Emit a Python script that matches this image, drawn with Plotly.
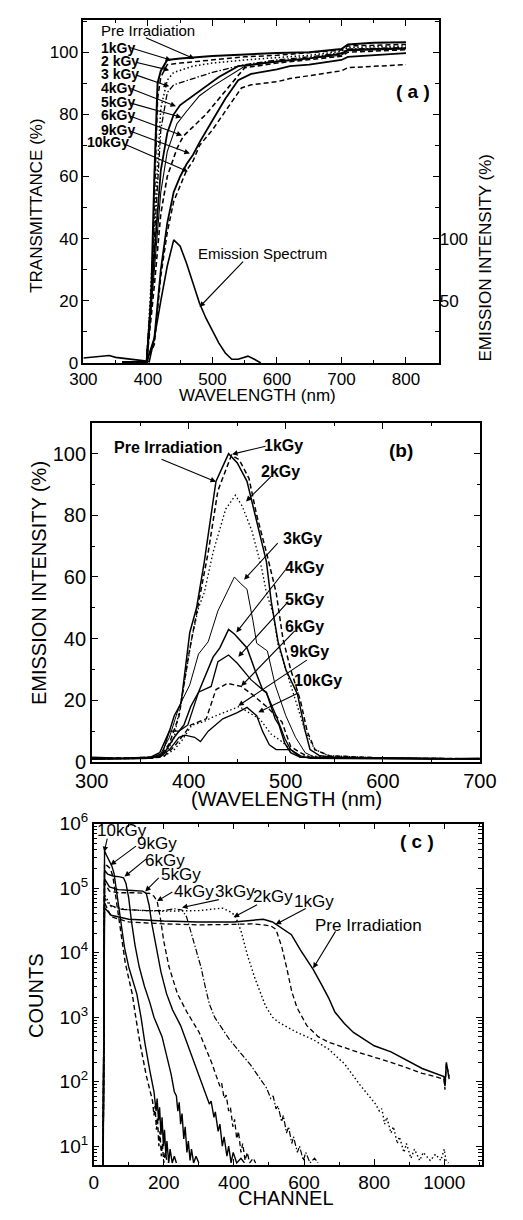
import plotly.graph_objects as go

W, H = 523, 1220
FONT = "Liberation Sans, Arial, Helvetica, sans-serif"

# ---------------- Panel (a): transmittance vs wavelength ----------------
a_labels = ["Pre Irradiation", "1kGy", "2 kGy", "3 kGy", "4kGy", "5kGy", "6kGy", "9kGy", "10kGy"]
a_pre_wl = [360, 398, 405, 410, 415, 420, 430, 450, 500, 550, 600, 650, 700, 710, 750, 800]
a_pre_t = [0.3, 0.3, 20, 60, 90, 94, 97.5, 98, 98.8, 99.3, 99.7, 100, 101, 102.5, 103, 103.2]
a_1k_wl = [360, 398, 405, 410, 415, 420, 430, 450, 500, 550, 600, 650, 700, 710, 800]
a_1k_t = [0.3, 0.3, 18, 55, 85, 92, 96, 96.5, 97.5, 98.5, 99, 99.8, 100.7, 102, 102.5]
a_2k_wl = [360, 398, 410, 420, 430, 440, 470, 500, 550, 600, 650, 700, 710, 800]
a_2k_t = [0.3, 0.3, 45, 82, 91, 93.5, 95.5, 96.5, 97.5, 98.2, 99, 100.3, 101.5, 102]
a_3k_wl = [360, 398, 410, 420, 430, 440, 470, 500, 550, 600, 650, 700, 710, 800]
a_3k_t = [0.3, 0.3, 40, 75, 87, 89.5, 91.5, 93.5, 96, 97.5, 98.5, 99.8, 101, 101.5]
a_4k_wl = [360, 398, 410, 420, 430, 440, 450, 470, 490, 510, 540, 600, 650, 700, 710, 800]
a_4k_t = [0.3, 0.3, 35, 62, 74, 80, 83, 86, 89, 92, 95.5, 97, 98, 99.5, 100.8, 101.3]
a_5k_wl = [360, 398, 410, 420, 430, 445, 460, 480, 500, 530, 550, 600, 700, 710, 800]
a_5k_t = [0.3, 0.3, 30, 55, 68, 77, 81, 86, 89, 93, 95.5, 97, 99, 100.5, 101]
a_6k_wl = [360, 398, 410, 420, 430, 445, 455, 470, 490, 510, 530, 550, 600, 700, 710, 800]
a_6k_t = [0.3, 0.3, 25, 48, 60, 69, 73, 76, 80, 85, 90, 95, 96.5, 98.7, 100, 100.8]
a_9k_wl = [360, 398, 410, 420, 430, 440, 450, 460, 470, 480, 500, 520, 540, 560, 600, 620, 650, 700, 710, 800]
a_9k_t = [0.3, 0.3, 8, 30, 45, 55, 60, 64, 67, 71, 78, 85, 91, 93, 94.5, 95.5, 96, 97.5, 98.5, 99.7]
a_10k_wl = [360, 398, 410, 420, 430, 440, 450, 460, 470, 480, 500, 520, 545, 560, 600, 620, 650, 700, 710, 800]
a_10k_t = [0.3, 0.3, 6, 28, 42, 52, 57, 62, 65, 70, 75, 81, 88.5, 89.5, 90.5, 91.5, 92.5, 94, 95, 96]
# emission spectrum (right axis, %)
a_em_wl = [300, 320, 340, 350, 370, 390, 398, 402, 410, 420, 430, 440, 450, 460, 470, 480, 490, 500, 510, 520, 530, 540, 555, 565, 575]
a_em_i = [4, 5, 6, 4.5, 3.5, 2.5, 1.5, 1, 20, 50, 78, 99, 94, 80, 64, 48, 36, 26, 16, 8, 3, 3, 5.5, 3, 0]

# ---------------- Panel (b): emission intensity vs wavelength ----------------
b_pre_wl = [300, 330, 360, 370, 380, 385, 392, 396, 401, 408, 416, 422, 428, 441, 450, 460, 470, 480, 485, 492, 500, 512, 520, 525, 535, 550, 600, 650, 700]
b_pre_i = [1.5, 1.2, 1.5, 3, 10, 15, 19, 30, 42, 50, 65, 78, 91, 100, 97, 91, 78, 65, 52, 39, 30, 22, 10, 4, 2, 1.5, 1.2, 1, 1.2]
b_1k_wl = [300, 340, 370, 380, 390, 400, 410, 420, 430, 444, 452, 462, 470, 480, 490, 497, 505, 515, 522, 530, 545, 600, 650, 700]
b_1k_i = [1.2, 1.5, 1.5, 6, 15, 35, 52, 68, 88, 99.5, 98, 92, 80, 68, 55, 40, 30, 20, 10, 4, 2, 1.3, 1.2, 1]
b_2k_wl = [300, 350, 375, 385, 395, 403, 410, 416, 425, 438, 448, 455, 465, 475, 480, 487, 492, 500, 510, 520, 530, 545, 600, 700]
b_2k_i = [1, 1.3, 2, 8, 25, 40, 50, 55, 68, 82, 86.5, 83, 75, 63, 55, 48, 38, 30, 20, 10, 4, 2, 1.3, 1]
b_3k_wl = [300, 350, 370, 380, 390, 401, 410, 420, 430, 441, 447, 453, 460, 466, 470, 481, 489, 500, 510, 520, 530, 600, 700]
b_3k_i = [1, 1.2, 2, 8, 18, 25, 35, 39, 49, 56, 60, 58, 56, 46, 38.5, 36, 25, 15, 8, 3, 1.5, 1.2, 1]
b_4k_wl = [300, 360, 375, 385, 395, 402, 410, 418, 425, 432, 441, 447, 454, 460, 468, 476, 480, 489, 493, 499, 505, 515, 600, 700]
b_4k_i = [1, 1.2, 3, 8, 12, 18, 22.6, 29, 34, 37, 43, 41.5, 39, 37, 30, 23.5, 22.6, 14, 12, 6, 3, 1.5, 1.2, 1]
b_5k_wl = [300, 360, 372, 380, 390, 399, 410, 423, 430, 441, 450, 464, 480, 490, 499, 505, 515, 600, 700]
b_5k_i = [1, 1.2, 2, 10, 10, 12, 22.6, 24.5, 32.5, 34.7, 32, 26.7, 22.4, 15, 7.6, 4, 1.5, 1.2, 1]
b_6k_wl = [300, 360, 375, 385, 395, 402, 410, 418, 428, 440, 454, 465, 480, 496, 505, 515, 525, 600, 700]
b_6k_i = [1, 1.2, 2, 5, 9, 12, 13, 14, 23.5, 25.5, 24.5, 22, 18, 13, 5, 3, 1.5, 1.2, 1]
b_9k_wl = [300, 360, 375, 385, 393, 403, 415, 425, 440, 452, 462, 473, 485, 496, 505, 515, 600, 700]
b_9k_i = [1, 1.2, 2, 4, 7, 11.9, 13, 14.6, 16.5, 18, 16, 14, 9, 6.6, 4, 2, 1.2, 1]
b_10k_wl = [300, 360, 372, 380, 390, 396, 406, 412, 420, 435, 450, 460, 470, 476, 483, 490, 505, 515, 525, 600, 700]
b_10k_i = [1, 1.2, 2, 4, 8, 8.7, 8, 6.6, 10, 14, 16, 17.7, 15, 10, 5.6, 4, 4, 2, 1.2, 1, 1]

# ---------------- Panel (c): counts vs channel ----------------
c_10k_ch = [27, 29, 31, 36, 45, 52, 58, 64, 70, 78, 88, 100, 112, 123, 135, 146, 160, 172,
            178, 181, 185, 188, 192, 195, 199, 202, 206, 209, 214, 218, 224, 230, 236]
c_10k_n = [5, 3e3, 3.8e5, 3.3e5, 2.6e5, 2.2e5, 1.7e5, 1e5, 5e4, 2.5e4, 1.2e4, 6e3, 3.5e3, 2.3e3, 1e3, 4e2, 150, 70,
           35, 55, 25, 40, 15, 28, 10, 18, 7, 12, 5.5, 9, 5.5, 7, 5.5]
c_9k_ch = [27, 29, 31, 40, 48, 55, 62, 70, 80, 90, 100, 110, 120, 132, 150, 168,
           172, 175, 179, 182, 186, 189, 193, 196, 200, 204, 210]
c_9k_n = [5, 3e3, 2.4e5, 2.2e5, 2e5, 1.5e5, 8e4, 3.5e4, 1.5e4, 7e3, 4e3, 2.3e3, 1e3, 4e2, 125, 50,
          30, 42, 18, 28, 10, 17, 7, 11, 5.5, 8, 5.5]
c_6k_ch = [27, 29, 31, 40, 55, 75, 85, 92, 100, 108, 118, 130, 145, 160, 172, 195, 221,
           230, 236, 240, 244, 248, 252, 257, 261, 266, 270, 275, 279, 285, 292, 300]
c_6k_n = [5, 3e3, 1.9e5, 1.65e5, 1.55e5, 1.5e5, 1.45e5, 1.2e5, 7e4, 3e4, 1.3e4, 6e3, 3e3, 1.7e3, 1e3, 5e2, 1.3e2,
          70, 60, 35, 48, 22, 32, 13, 20, 8, 12, 6, 9, 5.5, 7, 5.5]
c_5k_ch = [27, 29, 31, 45, 70, 110, 140, 150, 158, 166, 178, 192, 208, 225, 248, 284, 319,
           330, 335, 343, 347, 355, 360, 367, 372, 380, 385, 392, 398, 408, 420, 430]
c_5k_n = [5, 3e3, 1.4e5, 1.05e5, 9.5e4, 9.2e4, 9e4, 8.3e4, 5.5e4, 2.8e4, 1.2e4, 5e3, 2.3e3, 1.3e3, 7.4e2, 2.2e2, 70,
          45, 50, 28, 34, 17, 22, 10, 14, 7, 10, 5.5, 8, 5.5, 6.5, 5.5]
c_4k_ch = [27, 29, 31, 45, 70, 120, 160, 172, 181, 190, 200, 215, 228, 239, 266, 301, 336,
           350, 360, 365, 372, 378, 385, 390, 397, 402, 408, 413, 420, 425, 432, 438, 445, 455, 462]
c_4k_n = [5, 3e3, 1.2e5, 9e4, 8.5e4, 8.5e4, 8.3e4, 7.5e4, 6.3e4, 3.5e4, 1.5e4, 6e3, 3.5e3, 2.3e3, 1.2e3, 5.8e2, 2e2,
          120, 85, 95, 55, 62, 35, 40, 20, 26, 13, 17, 8, 11, 6, 8, 5.5, 6.5, 5.5]
c_3k_ch = [27, 29, 31, 45, 80, 150, 200, 230, 252, 265, 279, 292, 306, 318, 330, 345, 386, 448, 493,
           505, 512, 520, 526, 536, 541, 550, 556, 565, 570, 581, 587, 598, 605, 617, 630, 640]
c_3k_n = [5, 3e3, 7e4, 5.5e4, 4.7e4, 4.5e4, 4.5e4, 4.8e4, 4.6e4, 3.6e4, 2e4, 1.1e4, 6e3, 3e3, 1.6e3, 1e3, 4.6e2, 1.8e2, 80,
          55, 60, 38, 42, 24, 30, 16, 20, 11, 14, 8, 10, 6, 8, 5.5, 6.5, 5.5]
c_2k_ch = [27, 29, 31, 50, 100, 200, 300, 350, 368, 390, 403, 420, 439, 460, 475, 490, 510, 528, 580, 626, 670, 715, 759, 804,
           815, 822, 830, 836, 848, 855, 866, 872, 885, 892, 905, 915, 930, 940, 960, 975, 990, 1000, 1005, 1012]
c_2k_n = [5, 3e3, 8e4, 5.2e4, 4.6e4, 4.4e4, 4.5e4, 4.8e4, 4.9e4, 4.3e4, 3.8e4, 2.2e4, 9e3, 4e3, 2.4e3, 1.5e3, 1e3, 8.3e2, 5.8e2, 4.5e2, 3.2e2, 1.9e2, 90, 45,
          35, 38, 22, 28, 16, 20, 11, 14, 8, 11, 6.5, 9, 6, 8, 6, 7.5, 6, 9, 6, 5.5]
c_1k_ch = [27, 29, 31, 50, 100, 200, 300, 400, 450, 484, 505, 520, 537, 550, 565, 580, 595, 608, 640, 670, 759, 848, 937, 999, 1002, 1006, 1014]
c_1k_n = [5, 3e3, 6e4, 3.6e4, 3e4, 2.8e4, 2.7e4, 2.75e4, 2.8e4, 2.7e4, 2.6e4, 2.3e4, 1.2e4, 6e3, 2.5e3, 1.4e3, 1e3, 7.4e2, 5e2, 4.1e2, 2.8e2, 2e2, 1.35e2, 1.1e2, 75, 1.9e2, 1.2e2]
c_pre_ch = [27, 29, 31, 50, 100, 200, 300, 400, 450, 484, 510, 540, 564, 590, 626, 650, 670, 688, 715, 741, 800, 848, 937, 999, 1002, 1006, 1014]
c_pre_n = [5, 3e3, 5e4, 3.8e4, 3.3e4, 3.1e4, 3e4, 3e4, 3.2e4, 3.3e4, 3e4, 2.3e4, 1.9e4, 1.1e4, 5.5e3, 3.2e3, 2e3, 1.2e3, 8e2, 5.8e2, 3.6e2, 2.9e2, 1.6e2, 1.2e2, 85, 2e2, 1.1e2]

# tick values
a_xt = [300, 400, 500, 600, 700, 800]
a_xm = [350, 450, 550, 650, 750, 850]
a_yt = [0, 20, 40, 60, 80, 100]
a_ym = [10, 30, 50, 70, 90, 110]
a_y2t = [50, 100]
b_xt = [300, 400, 500, 600, 700]
b_xm = [350, 450, 550, 650]
b_yt = [0, 20, 40, 60, 80, 100]
b_ym = [10, 30, 50, 70, 90, 110]
c_xt = [0, 200, 400, 600, 800, 1000]
c_xm = [100, 300, 500, 700, 900, 1100]
c_yt = [10, 100, 1000, 10000, 100000, 1000000]
c_ytext = ["10<sup>1</sup>", "10<sup>2</sup>", "10<sup>3</sup>", "10<sup>4</sup>", "10<sup>5</sup>", "10<sup>6</sup>"]
c_ym = [m * 10 ** e for e in range(0, 6) for m in range(2, 10)]

# ---------------- styles ----------------
SOLID = "solid"
DASH = "5px,3px"
DOT = "1.5px,2.5px"
DASHDOT = "6px,2px,1.5px,2px"

fig = go.Figure()

def add(x, y, dash, xa, ya, width=1.3):
    fig.add_trace(go.Scatter(x=x, y=y, mode="lines", xaxis=xa, yaxis=ya,
                             line=dict(color="black", width=width, dash=dash),
                             showlegend=False, hoverinfo="skip"))

# panel a
add(a_pre_wl, a_pre_t, SOLID, "x", "y", 2.0)
add(a_1k_wl, a_1k_t, DASH, "x", "y", 1.5)
add(a_2k_wl, a_2k_t, DOT, "x", "y", 1.5)
add(a_3k_wl, a_3k_t, DASHDOT, "x", "y", 1.3)
add(a_4k_wl, a_4k_t, SOLID, "x", "y", 1.8)
add(a_5k_wl, a_5k_t, SOLID, "x", "y", 1.1)
add(a_6k_wl, a_6k_t, DASH, "x", "y", 1.6)
add(a_9k_wl, a_9k_t, SOLID, "x", "y", 1.8)
add(a_10k_wl, a_10k_t, DASH, "x", "y", 1.5)
add(a_em_wl, a_em_i, SOLID, "x", "y4", 1.6)

# panel b
add(b_pre_wl, b_pre_i, SOLID, "x2", "y2", 1.5)
add(b_1k_wl, b_1k_i, DASH, "x2", "y2", 1.5)
add(b_2k_wl, b_2k_i, DOT, "x2", "y2", 1.3)
add(b_3k_wl, b_3k_i, SOLID, "x2", "y2", 1.0)
add(b_4k_wl, b_4k_i, SOLID, "x2", "y2", 1.5)
add(b_5k_wl, b_5k_i, SOLID, "x2", "y2", 1.3)
add(b_6k_wl, b_6k_i, DASH, "x2", "y2", 1.4)
add(b_9k_wl, b_9k_i, DOT, "x2", "y2", 1.3)
add(b_10k_wl, b_10k_i, SOLID, "x2", "y2", 1.3)

# panel c
add(c_10k_ch, c_10k_n, SOLID, "x3", "y3", 1.4)
add(c_9k_ch, c_9k_n, DASH, "x3", "y3", 1.4)
add(c_6k_ch, c_6k_n, SOLID, "x3", "y3", 1.4)
add(c_5k_ch, c_5k_n, SOLID, "x3", "y3", 1.4)
add(c_4k_ch, c_4k_n, DASH, "x3", "y3", 1.3)
add(c_3k_ch, c_3k_n, DASHDOT, "x3", "y3", 1.2)
add(c_2k_ch, c_2k_n, DOT, "x3", "y3", 1.4)
add(c_1k_ch, c_1k_n, DASH, "x3", "y3", 1.3)
add(c_pre_ch, c_pre_n, SOLID, "x3", "y3", 1.5)


def px(x):
    return x / W


def py(y):
    return 1 - y / H


def axis(domain, rng, tickvals, minorvals, size, anchor, ticktext=None, typ="linear"):
    d = dict(domain=domain, range=rng, anchor=anchor, type=typ,
             showline=True, linecolor="black", linewidth=1.5, mirror="ticks",
             ticks="inside", ticklen=6, tickwidth=1.2, tickcolor="black",
             tickmode="array", tickvals=tickvals,
             minor=dict(tickvals=minorvals, ticks="inside", ticklen=3.5, tickwidth=1, tickcolor="black"),
             showgrid=False, zeroline=False,
             tickfont=dict(family=FONT, size=size, color="black"))
    if ticktext is not None:
        d["ticktext"] = ticktext
    return d


layout = dict(
    width=W, height=H, autosize=False,
    margin=dict(l=0, r=0, t=0, b=0, pad=0),
    paper_bgcolor="white", plot_bgcolor="white",
    showlegend=False,
    xaxis=axis([px(71), px(451)], [300, 850.7], a_xt, a_xm, 17, "y"),
    yaxis=axis([py(357), py(7)], [0, 110.4], a_yt, a_ym, 17, "x"),
    yaxis4=dict(overlaying="y", side="right", anchor="x", range=[0, 276],
                tickmode="array", tickvals=a_y2t, ticks="", showline=False,
                showgrid=False, zeroline=False,
                tickfont=dict(family=FONT, size=17, color="black")),
    xaxis2=axis([px(80), px(495)], [300, 700], b_xt, b_xm, 20, "y2"),
    yaxis2=axis([py(764), py(418)], [0, 110], b_yt, b_ym, 20, "x2"),
    xaxis3=axis([px(82), px(497)], [0, 1106.7], c_xt, c_xm, 19, "y3"),
    yaxis3=axis([py(1175), py(827)], [0.71, 6.0], c_yt, c_ym, 19, "x3", c_ytext, "log"),
)
fig.update_layout(**layout)

ann = []


def text(t, x, y, size, bold=False, angle=0, xanchor="center"):
    ann.append(dict(text=("<b>%s</b>" % t) if bold else t, x=px(x), y=py(y), xref="paper", yref="paper",
                    showarrow=False, xanchor=xanchor, yanchor="middle", textangle=angle,
                    font=dict(family=FONT, size=size, color="black")))


def arrow(xd, yd, dx, dy, xr, yr):
    ann.append(dict(text="", x=xd, y=yd, xref=xr, yref=yr, ax=dx, ay=dy,
                    showarrow=True, arrowhead=2, arrowsize=1, arrowwidth=1.1,
                    arrowcolor="black", standoff=0))

# axis titles
text("TRANSMITTANCE (%)", 20, 197, 17, angle=-90)
text("WAVELENGTH (nm)", 257, 390, 17)
text("EMISSION INTENSITY (%)", 501, 249, 17, angle=-90)
text("EMISSION INTENSITY (%)", 23, 582, 20, angle=-90)
text("(WAVELENGTH (nm)", 288, 802, 20)
text("COUNTS", 21, 1003, 20, angle=-90)
text("CHANNEL", 288, 1209, 20)

# panel letters
text("( a )", 424, 80, 19, bold=True)
text("(b)", 411, 446, 19, bold=True)
text("( c )", 428, 845, 19, bold=True)

# panel a labels
text("Pre Irradiation", 88, 18, 15, xanchor="left")
a_lab_y = [36, 49, 62, 76, 91, 104, 119, 132]
a_lab_x = [88, 88, 88, 88, 88, 88, 88, 73]
for lab, lx, ly in zip(a_labels[1:], a_lab_x, a_lab_y):
    text(lab, lx, ly, 14, bold=True, xanchor="left")
text("Emission Spectrum", 263, 245, 15)

# panel a arrows (tip in data coords, tail offset in px)
arrow(472, 97.9, -50, -21.7, "x", "y")
arrow(436, 97.4, -43, -13.3, "x", "y")
arrow(433, 94.2, -35, -8.3, "x", "y")
arrow(433, 89.0, -35, -12, "x", "y")
arrow(443.5, 82.6, -47, -18.3, "x", "y")
arrow(452, 79.0, -53, -15, "x", "y")
arrow(453, 73.2, -53.7, -20, "x", "y")
arrow(465, 67.4, -62, -23.3, "x", "y")
arrow(462, 61.6, -65.7, -28.4, "x", "y")
arrow(480, 18.0, 45, -47, "x", "y")

# panel b labels
b_labels = ["1kGy", "2kGy", "3kGy", "4kGy", "5kGy", "6kGy", "9kGy", "10kGy"]
b_lab_x = [285, 282, 305, 307, 308, 307, 313, 322]
b_lab_y = [441, 468, 536, 566, 598, 626, 651, 681]
text("Pre Irradiation", 161, 443, 16, bold=True)
for lab, lx, ly in zip(b_labels, b_lab_x, b_lab_y):
    text(lab, lx, ly, 16, bold=True)
arrow(428, 90.9, -56, -23, "x2", "y2")
arrow(444.6, 99.8, 35, -8.3, "x2", "y2")
arrow(459, 84.5, 26.7, -26.6, "x2", "y2")
arrow(457, 59.1, 35, -38, "x2", "y2")
arrow(449, 42.0, 50, -63.7, "x2", "y2")
arrow(451, 34.1, 51.3, -56.7, "x2", "y2")
arrow(454, 24.6, 55, -56.7, "x2", "y2")
arrow(451, 18.2, 70, -46.7, "x2", "y2")
arrow(471.6, 16.1, 42, -20.3, "x2", "y2")

# panel c labels
c_labels = ["10kGy", "9kGy", "6kGy", "5kGy", "4kGy", "3kGy", "2kGy", "1kGy"]
c_lab_x = [112, 150, 158, 175, 189, 233, 274, 318]
c_lab_y = [834, 847, 864, 879, 896, 896, 901, 906]
for lab, lx, ly in zip(c_labels, c_lab_x, c_lab_y):
    text(lab, lx, ly, 17)
text("Pre Irradiation", 376, 931, 17)
arrow(30, 5.56, 3.4, -15, "x3", "y3")
arrow(48, 5.36, 27, -20, "x3", "y3")
arrow(88, 5.18, 23, -18.7, "x3", "y3")
arrow(147, 4.95, 15, -15, "x3", "y3")
arrow(181, 4.80, 16.7, -10, "x3", "y3")
arrow(252, 4.70, 38.3, -8.3, "x3", "y3")
arrow(399, 4.55, 25, -13.3, "x3", "y3")
arrow(519, 4.44, 31.6, -16.7, "x3", "y3")
arrow(626, 3.76, 23.3, -38.3, "x3", "y3")

fig.update_layout(annotations=ann)
fig.write_html("out.html", config={"responsive": False},
               post_script="document.body.style.margin='0';document.body.style.padding='0';document.documentElement.style.overflow='hidden';")
